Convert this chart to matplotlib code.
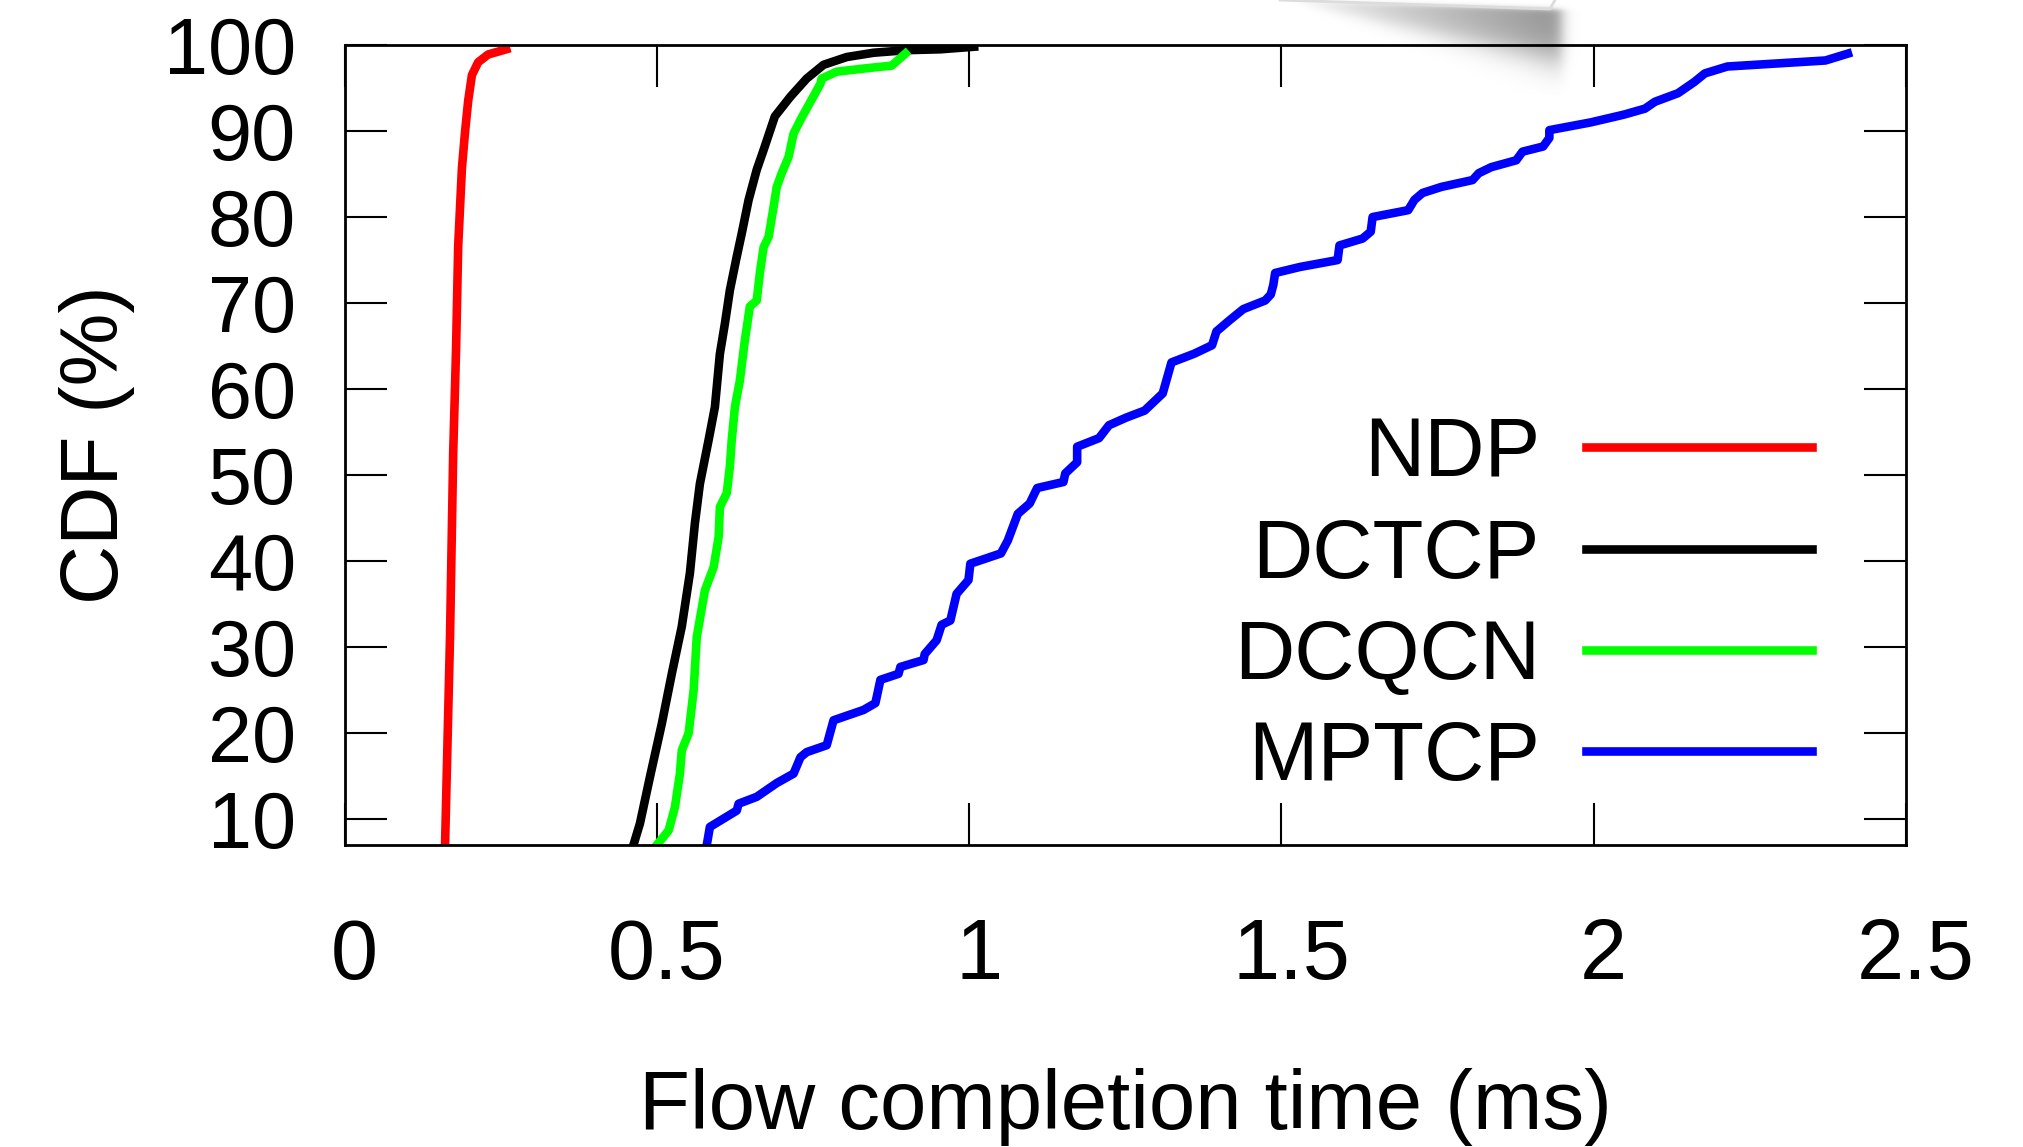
import numpy as np
import matplotlib
matplotlib.use('Agg')
from matplotlib import pyplot as plt
from matplotlib.transforms import ScaledTranslation

# flow completion time (ms) vs CDF (%)
ndp_fct = [0.161, 0.169, 0.174, 0.1786, 0.182, 0.188, 0.193, 0.198, 0.204, 0.214, 0.230, 0.259]
ndp_cdf = [7.0, 31.4, 52.5, 64.6, 76.6, 85.7, 89.9, 93.5, 96.5, 98.0, 98.9, 99.5]

dctcp_fct = [0.4626, 0.473, 0.489, 0.508, 0.524, 0.540, 0.553, 0.561, 0.569, 0.583,
             0.593, 0.601, 0.609, 0.617, 0.628, 0.636, 0.647, 0.660, 0.671, 0.689,
             0.714, 0.740, 0.767, 0.804, 0.847, 0.900, 0.954, 1.008]
dctcp_cdf = [7.0, 9.5, 14.9, 21.1, 26.9, 32.4, 38.6, 44.4, 49.0, 54.1,
             57.9, 64.1, 67.6, 71.5, 75.4, 78.1, 82.0, 85.5, 87.8, 91.7,
             94.0, 96.1, 97.7, 98.6, 99.1, 99.4, 99.5, 99.8]

dcqcn_fct = [0.500, 0.519, 0.529, 0.537, 0.540, 0.551, 0.559, 0.564, 0.577, 0.591,
             0.599, 0.601, 0.612, 0.617, 0.620, 0.625, 0.633, 0.641, 0.649, 0.660,
             0.665, 0.671, 0.679, 0.687, 0.692, 0.700, 0.711, 0.719, 0.730, 0.746,
             0.762, 0.764, 0.788, 0.836, 0.876, 0.898]
dcqcn_cdf = [7.0, 8.7, 11.4, 15.3, 18.0, 20.0, 25.0, 31.2, 36.6, 39.3,
             42.8, 46.3, 47.9, 51.0, 54.1, 57.9, 61.0, 65.7, 69.6, 70.3,
             73.5, 76.5, 77.7, 81.2, 83.5, 85.1, 87.0, 89.7, 91.3, 93.4,
             95.5, 96.1, 96.9, 97.3, 97.6, 99.0]

mptcp_fct = [0.580, 0.585, 0.628, 0.631, 0.660, 0.692, 0.719, 0.730, 0.740, 0.772,
             0.783, 0.831, 0.850, 0.858, 0.887, 0.890, 0.927, 0.929, 0.948, 0.956,
             0.970, 0.980, 0.999, 1.002, 1.051, 1.062, 1.078, 1.097, 1.109, 1.151,
             1.154, 1.173, 1.173, 1.208, 1.224, 1.252, 1.281, 1.310, 1.324, 1.360,
             1.389, 1.396, 1.417, 1.439, 1.474, 1.483, 1.487, 1.490, 1.530, 1.590,
             1.593, 1.630, 1.643, 1.646, 1.703, 1.713, 1.726, 1.756, 1.806, 1.816,
             1.836, 1.876, 1.886, 1.919, 1.929, 1.929, 1.995, 2.048, 2.082, 2.098,
             2.135, 2.161, 2.178, 2.214, 2.371, 2.407]
mptcp_cdf = [7.0, 9.1, 11.0, 11.8, 12.6, 14.2, 15.3, 17.2, 17.8, 18.6,
             21.5, 22.7, 23.5, 26.2, 26.9, 27.7, 28.5, 29.2, 30.8, 32.6,
             33.1, 36.2, 37.8, 39.7, 40.9, 42.4, 45.5, 46.7, 48.5, 49.2,
             50.2, 51.5, 53.3, 54.3, 55.8, 56.7, 57.5, 59.5, 63.1, 64.1,
             65.1, 66.7, 68.0, 69.3, 70.3, 71.0, 72.1, 73.5, 74.2, 75.0,
             76.7, 77.5, 78.3, 80.0, 80.8, 82.0, 82.8, 83.5, 84.3, 85.1,
             85.8, 86.6, 87.6, 88.2, 89.2, 90.1, 91.0, 91.9, 92.6, 93.4,
             94.4, 95.7, 96.7, 97.5, 98.2, 99.0]

x_ticks = [0, 0.5, 1, 1.5, 2, 2.5]
x_ticklabels = ['0', '0.5', '1', '1.5', '2', '2.5']
y_ticks = [10, 20, 30, 40, 50, 60, 70, 80, 90, 100]

plt.rcParams['font.family'] = ['Liberation Sans', 'DejaVu Sans']

fig = plt.figure(figsize=(20.23, 11.47), dpi=100)

# blurred page-corner shadow in the top right corner (decoration)
bg = fig.add_axes([0, 0, 1, 1], zorder=0)
bg.set_axis_off()
yy, xx = np.mgrid[0:95, 1240:1610].astype(float)
t = np.clip((xx - 1285) / 275.0, 0, 1)
top = 9 * t
bot = 60 * t
w = 2 + 8 * t
sig = lambda z: 1 / (1 + np.exp(-z))
shade = 0.42 * t ** 0.8 * sig((yy - top) / 1.5) * sig((bot - yy) / w) * sig((1561 - xx) / 4)
rgba = np.zeros(yy.shape + (4,))
rgba[..., 3] = shade
bg.imshow(rgba, extent=(1240, 1610, 95, 0), interpolation='bilinear')
bg.plot([1280, 1550, 1555], [0, 9, 0], color='#dcdcdc', lw=2)
bg.set_aspect('auto')
bg.set_xlim(0, 2023)
bg.set_ylim(1147, 0)

ax = fig.add_axes([344.5 / 2023, 1 - 845 / 1147, 1561.5 / 2023, 800 / 1147], zorder=1)
ax.set_facecolor('none')

lw = 6.2
ax.plot(ndp_fct, ndp_cdf, color='#ff0000', lw=lw, label='NDP')
ax.plot(dctcp_fct, dctcp_cdf, color='#000000', lw=lw, label='DCTCP')
ax.plot(dcqcn_fct, dcqcn_cdf, color='#00ff00', lw=lw, label='DCQCN')
ax.plot(mptcp_fct, mptcp_cdf, color='#0000ff', lw=lw, label='MPTCP')

ax.set_xlim(0, 2.5)
ax.set_ylim(7, 100)
ax.set_xticks(x_ticks)
ax.set_xticklabels(x_ticklabels)
ax.set_yticks(y_ticks)
ax.tick_params(axis='both', direction='in', length=30, width=1.5,
               top=True, right=True)
ax.tick_params(axis='x', pad=52, labelsize=61)
ax.tick_params(axis='y', pad=35, labelsize=57)
for s in ax.spines.values():
    s.set_linewidth(2)

# x tick labels sit a little right of their ticks in the original
shift = ScaledTranslation(7 / 72, 0, fig.dpi_scale_trans)
for lab in ax.get_xticklabels():
    lab.set_transform(lab.get_transform() + shift)

ax.set_xlabel('Flow completion time (ms)', fontsize=60)
ax.set_ylabel('CDF (%)', fontsize=59)
ax.xaxis.set_label_coords(0.5, -0.279)
ax.yaxis.set_label_coords(-0.134, 0.5)

ax.legend(loc='upper right', bbox_to_anchor=(0.940, 0.537), markerfirst=False,
          frameon=False, fontsize=60, handlelength=2.72, handletextpad=0.55,
          labelspacing=0.28, borderpad=0, borderaxespad=0)

fig.savefig('out.png', dpi=100)
